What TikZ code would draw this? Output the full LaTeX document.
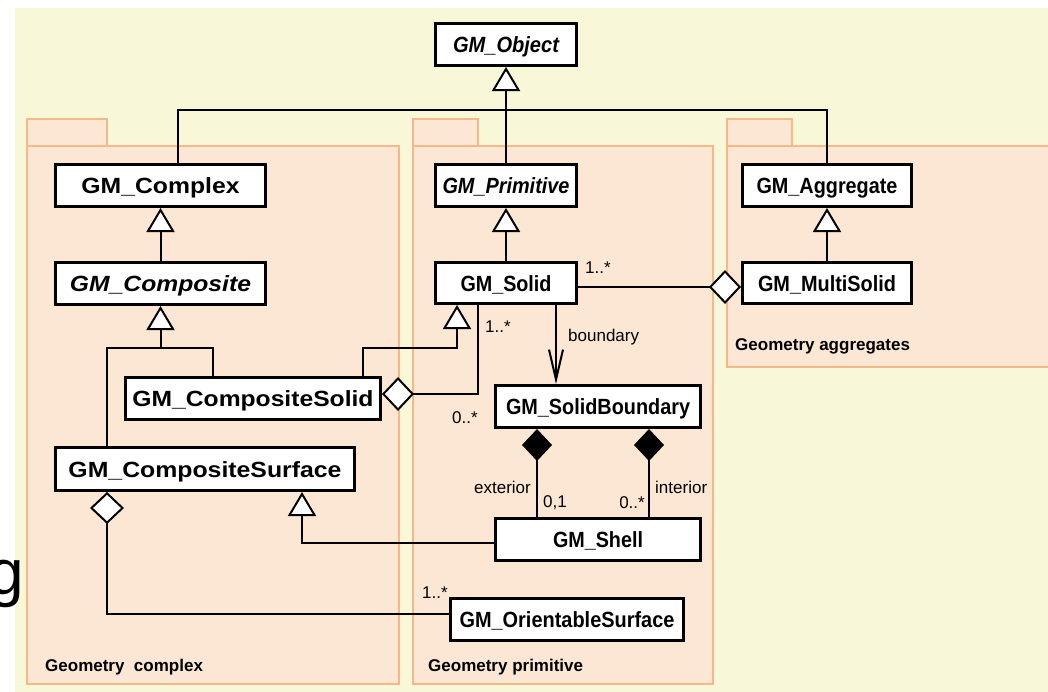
\documentclass[tikz,border=0pt]{standalone}
\usepackage{fontspec}
\setmainfont{Liberation Sans}
\usetikzlibrary{arrows.meta}
\definecolor{bgc}{HTML}{F8F7D8}
\definecolor{pkgfill}{HTML}{FCE7D4}
\definecolor{pkgline}{HTML}{F6B888}
\newcommand\fitw[2]{\resizebox{#1}{\height}{#2}}
\begin{document}
\begin{tikzpicture}[x=1pt,y=-1pt,
  cls/.style={draw, line width=3pt, fill=white, minimum height=42pt, inner sep=0pt,
    text height=21pt, text depth=5pt,
    font=\fontsize{22}{26}\selectfont\bfseries},
  abscls/.style={cls, font=\fontsize{22}{26}\selectfont\bfseries\itshape},
  conn/.style={line width=2pt},
  gen/.style={conn, -{Triangle[fill=white, length=24pt, width=28pt]}},
  aggr/.style={conn, {Diamond[fill=white, length=32pt, width=34pt]}-},
  comp/.style={conn, {Diamond[fill=black, length=32pt, width=30pt]}-},
  nav/.style={conn, -{Straight Barb[length=30pt, width=14pt]}},
  pkg/.style={draw=pkgline, fill=pkgfill, line width=2pt},
  pkglabel/.style={anchor=west, inner sep=0pt, font=\fontsize{17}{20}\selectfont\bfseries},
  lbl/.style={inner sep=0pt, font=\fontsize{17}{20}\selectfont}
]
\useasboundingbox (0,0) rectangle (1048,691);
\clip (0,0) rectangle (1048,691);
% background
\fill[bgc] (15,8) rectangle (1060,700);
% stray glyph at the left edge
\node[anchor=base east, inner sep=0pt, font=\fontsize{64}{70}\selectfont] (gch) at (24,594) {g};

% packages
\draw[pkg] (27,119) rectangle (107,146);
\draw[pkg] (27,146) rectangle (399,684);
\draw[pkg] (413,119) rectangle (478,146);
\draw[pkg] (413,146) rectangle (713,684);
\draw[pkg] (727,119) rectangle (792,146);
\draw[pkg] (727,146) rectangle (1060,367);

\node[pkglabel] (plc) at (45,667) {Geometry\ \ complex};
\node[pkglabel] (plp) at (428,667) {Geometry primitive};
\node[pkglabel] (pla) at (735,346) {Geometry aggregates};

% classes
\node[abscls, minimum width=141pt] (obj) at (506,44.5) {\fitw{106pt}{GM\_Object}};
\node[cls, minimum width=210pt] (complex) at (160.5,185.5) {\fitw{158pt}{GM\_Complex}};
\node[abscls, minimum width=141pt] (prim) at (506,185.5) {\fitw{127pt}{GM\_Primitive}};
\node[cls, minimum width=169pt] (aggr) at (827,185.5) {\fitw{141pt}{GM\_Aggregate}};
\node[abscls, minimum width=210pt] (composite) at (160.5,283.5) {\fitw{181pt}{GM\_Composite}};
\node[cls, minimum width=141pt, minimum height=41pt] (solid) at (506,283) {\fitw{91pt}{GM\_Solid}};
\node[cls, minimum width=169pt, minimum height=41pt] (multi) at (827,283) {\fitw{138pt}{GM\_MultiSolid}};
\node[cls, minimum width=255pt] (csolid) at (253,398.5) {\fitw{241pt}{GM\_CompositeSolid}};
\node[cls, minimum width=205pt] (sbound) at (598,406.5) {\fitw{184pt}{GM\_SolidBoundary}};
\node[cls, minimum width=299pt, minimum height=43pt] (csurf) at (205,469) {\fitw{273pt}{GM\_CompositeSurface}};
\node[cls, minimum width=205pt] (shell) at (598,539.5) {\fitw{90pt}{GM\_Shell}};
\node[cls, minimum width=233pt] (orient) at (567,619.5) {\fitw{215pt}{GM\_OrientableSurface}};

% junction points
\coordinate (jtop) at (506,110);
\coordinate (jc) at (160.5,348);
\coordinate (js) at (457,348);

% generalizations
\draw[gen] (prim.north) -- (obj.south);
\draw[conn] ([xshift=17.5pt]complex.north) |- (jtop) -| (aggr.north);
\draw[gen] (composite.north) -- (complex.south);
\draw[gen] (jc) -- (composite.south);
\draw[conn] ([xshift=-98pt]csurf.north) |- (jc) -| ([xshift=-40pt]csolid.north);
\draw[gen] (solid.north) -- (prim.south);
\draw[gen] (multi.north) -- (aggr.south);
\draw[gen] ([xshift=110pt]csolid.north) |- (js) -- ([xshift=-49pt]solid.south);
\draw[gen] ([yshift=-3.5pt]shell.west) -| ([xshift=97pt]csurf.south);

% aggregations
\draw[aggr] ([yshift=4.5pt]csolid.east) -| ([xshift=-28pt]solid.south);
\draw[aggr] ([yshift=-4pt]multi.west) -- ([yshift=-4pt]solid.east);
\draw[aggr] ([xshift=-98pt]csurf.south) |- ([yshift=5.5pt]orient.west);

% compositions
\draw[comp] ([xshift=-61pt]sbound.south) -- ([xshift=-61pt]shell.north);
\draw[comp] ([xshift=51pt]sbound.south) -- ([xshift=51pt]shell.north);

% navigable association
\draw[nav] ([xshift=50pt]solid.south) -- ([xshift=-42pt]sbound.north);

% labels
\node[lbl, anchor=west] (m1) at (485,327) {1..*};
\node[lbl, anchor=west] (m2) at (452,418) {0..*};
\node[lbl, anchor=west] (m3) at (585,268) {1..*};
\node[lbl, anchor=west] (bnd) at (568,337) {boundary};
\node[lbl, anchor=east] (ext) at (531,487) {exterior};
\node[lbl, anchor=west] (m4) at (543,503) {0,1};
\node[lbl, anchor=east] (m5) at (645,503) {0..*};
\node[lbl, anchor=west] (int) at (655,487) {interior};
\node[lbl, anchor=west] (m6) at (422,593) {1..*};
\end{tikzpicture}
\end{document}
